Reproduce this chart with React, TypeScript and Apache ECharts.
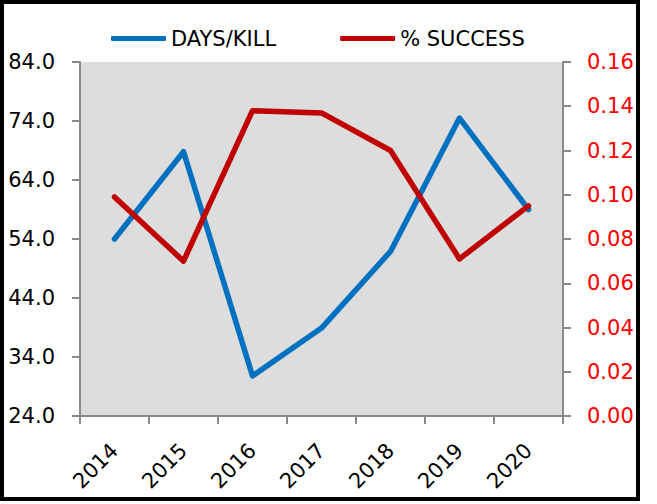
import React, { useEffect, useRef } from "react";
import * as echarts from "echarts";

const years = ["2014", "2015", "2016", "2017", "2018", "2019", "2020"];
const daysPerKill = [54.0, 68.8, 30.8, 38.9, 51.9, 74.5, 59.0];
const successRate = [0.099, 0.07, 0.138, 0.137, 0.12, 0.071, 0.095];

const FONT = "DejaVu Sans";
const AXIS_GRAY = "#898989";

export default function App() {
  const ref = useRef<HTMLDivElement>(null);
  useEffect(() => {
    if (!ref.current) return;
    const chart = echarts.init(ref.current, null, { renderer: "svg" });
    chart.setOption({
      animation: false,
      backgroundColor: "#ffffff",
      textStyle: { fontFamily: FONT },
      grid: {
        left: 80,
        right: 94,
        top: 62,
        bottom: 88,
        show: true,
        backgroundColor: "#DDDDDD",
        borderWidth: 0,
      },
      legend: {
        left: 106,
        top: 23,
        itemWidth: 55,
        itemHeight: 5,
        itemGap: 64,
        textStyle: { fontFamily: FONT, fontSize: 21, color: "#000" },
        data: [
          { name: "DAYS/KILL", icon: "roundRect" },
          { name: "% SUCCESS", icon: "roundRect" },
        ],
      },
      xAxis: {
        type: "category",
        data: years,
        boundaryGap: true,
        axisLine: { show: true, lineStyle: { color: AXIS_GRAY, width: 2 } },
        axisTick: { show: true, length: 8, alignWithLabel: false, lineStyle: { color: AXIS_GRAY, width: 2 } },
        axisLabel: {
          rotate: 45,
          margin: 31,
          fontFamily: FONT,
          fontSize: 21,
          color: "#000",
          interval: 0,
        },
        splitLine: { show: false },
      },
      yAxis: [
        {
          type: "value",
          position: "left",
          min: 24,
          max: 84,
          interval: 10,
          axisLine: { show: true, lineStyle: { color: AXIS_GRAY, width: 2 } },
          axisTick: { show: true, length: 8, lineStyle: { color: AXIS_GRAY, width: 2 } },
          axisLabel: {
            margin: 25,
            fontFamily: FONT,
            fontSize: 21,
            color: "#000",
            formatter: (v: number) => v.toFixed(1),
          },
          splitLine: { show: false },
        },
        {
          type: "value",
          position: "right",
          min: 0,
          max: 0.16,
          interval: 0.02,
          axisLine: { show: true, lineStyle: { color: AXIS_GRAY, width: 2 } },
          axisTick: { show: true, length: 8, lineStyle: { color: AXIS_GRAY, width: 2 } },
          axisLabel: {
            margin: 24,
            fontFamily: FONT,
            fontSize: 21,
            color: "#FF0000",
            formatter: (v: number) => v.toFixed(2),
          },
          splitLine: { show: false },
        },
      ],
      series: [
        {
          name: "DAYS/KILL",
          type: "line",
          yAxisIndex: 0,
          data: daysPerKill,
          symbol: "none",
          showSymbol: false,
          color: "#0070C0",
          lineStyle: { color: "#0070C0", width: 5.5, cap: "round", join: "round" },
        },
        {
          name: "% SUCCESS",
          type: "line",
          yAxisIndex: 1,
          data: successRate,
          symbol: "none",
          showSymbol: false,
          color: "#C00000",
          lineStyle: { color: "#C00000", width: 5.5, cap: "round", join: "round" },
        },
      ],
      graphic: [
        {
          type: "rect",
          shape: { x: 2, y: 2, width: 636, height: 497 },
          style: { fill: "none", stroke: "#000", lineWidth: 4 },
          silent: true,
          z: 100,
        },
      ],
    });
    return () => chart.dispose();
  }, []);
  return (
    <div
      ref={ref}
      style={{ position: "fixed", left: 0, top: 0, width: 657, height: 504, background: "#fff" }}
    />
  );
}
